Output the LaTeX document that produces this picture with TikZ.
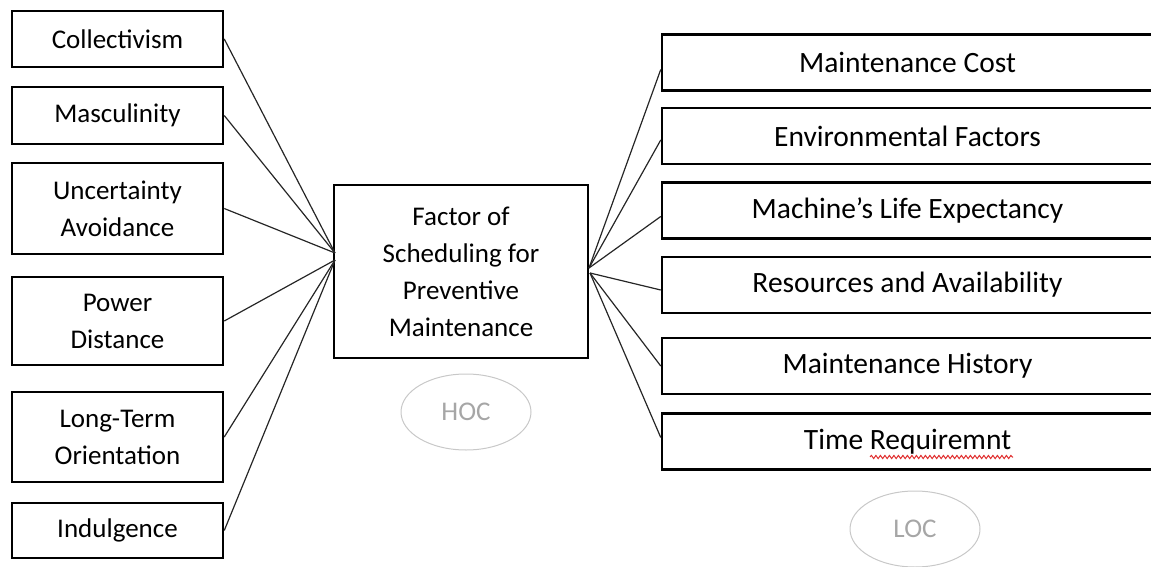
\documentclass[tikz,border=0pt]{standalone}
\usepackage{fontspec}
\setmainfont{Carlito}
\usetikzlibrary{shapes.geometric,decorations.pathmorphing}
\definecolor{ovalline}{HTML}{C8C8C8}
\definecolor{ovaltext}{HTML}{A6A6A6}
\definecolor{spellred}{HTML}{E03030}
\tikzset{
  leftbox/.style={draw=black, line width=2.5pt, inner sep=0pt, minimum width=211pt, align=center,
    font=\fontsize{27}{37}\selectfont},
  midbox/.style={draw=black, line width=2.5pt, inner sep=0pt, minimum width=254pt, minimum height=173pt, align=center,
    font=\fontsize{27}{37}\selectfont},
  rightbox/.style={draw=black, line width=2.5pt, inner sep=0pt, minimum width=491pt, minimum height=56pt, align=center,
    font=\fontsize{29.5}{37}\selectfont},
  oval/.style={draw=ovalline, ellipse, line width=1pt, inner sep=0pt, minimum width=130pt, minimum height=76pt,
    text=ovaltext, font=\fontsize{27}{32}\selectfont},
  link/.style={draw=black!85, line width=1.2pt}
}
\begin{document}
\begin{tikzpicture}[x=1pt,y=-1pt]
\useasboundingbox (0,0) rectangle (1151,567);
% left boxes
\node[leftbox, minimum height=56pt] (c1) at (117.5,39) {Collectivism};
\node[leftbox, minimum height=57pt] (c2) at (117.5,115.5) {Masculinity};
\node[leftbox, minimum height=91pt] (c3) at (117.5,208.5) {Uncertainty\\Avoidance};
\node[leftbox, minimum height=88pt] (c4) at (117.5,321) {Power\\Distance};
\node[leftbox, minimum height=90pt] (c5) at (117.5,437) {Long-Term\\Orientation};
\node[leftbox, minimum height=55pt] (c6) at (117.5,530.5) {Indulgence};
% centre
\node[midbox] (hub) at (461,271.5) {Factor of\\Scheduling for\\Preventive\\Maintenance};
\node[oval] (hoc) at (466,412) {HOC};
% right boxes
\node[rightbox] (r1) at (907.5,62.5) {Maintenance Cost};
\node[rightbox] (r2) at (907.5,136) {Environmental Factors};
\node[rightbox] (r3) at (907.5,210.5) {Machine’s Life Expectancy};
\node[rightbox] (r4) at (907.5,285) {Resources and Availability};
\node[rightbox] (r5) at (907.5,366) {Maintenance History};
\node[rightbox] (r6) at (907.5,441.5) {Time Requiremnt};
\node[oval] (loc) at (915,529) {LOC};
% hubs
\coordinate (hl1) at (335,253);
\coordinate (hl2) at (335,260);
\coordinate (hr1) at (589,268);
\coordinate (hr2) at (590,273);
% connectors
\draw[link] (c1.east) -- (hl1);
\draw[link] (c2.east) -- (hl1);
\draw[link] (c3.east) -- (hl1);
\draw[link] (c4.east) -- (hl2);
\draw[link] (c5.east) -- (hl2);
\draw[link] (c6.east) -- (hl2);
\draw[link] (hr1) -- ([yshift=-7pt]r1.west);
\draw[link] (hr1) -- ([yshift=-4pt]r2.west);
\draw[link] (hr1) -- ([yshift=-6pt]r3.west);
\draw[link] (hr2) -- ([yshift=-5pt]r4.west);
\draw[link] (hr2) -- (r5.west);
\draw[link] (hr2) -- ([yshift=4pt]r6.west);
% spell-check squiggle
\coordinate (sq1) at (870,457);
\coordinate (sq2) at (1013,457);
\draw[spellred, line width=1pt, decorate, decoration={snake, amplitude=1.6pt, segment length=4.5pt}] (sq1) -- (sq2);
\end{tikzpicture}
\end{document}
